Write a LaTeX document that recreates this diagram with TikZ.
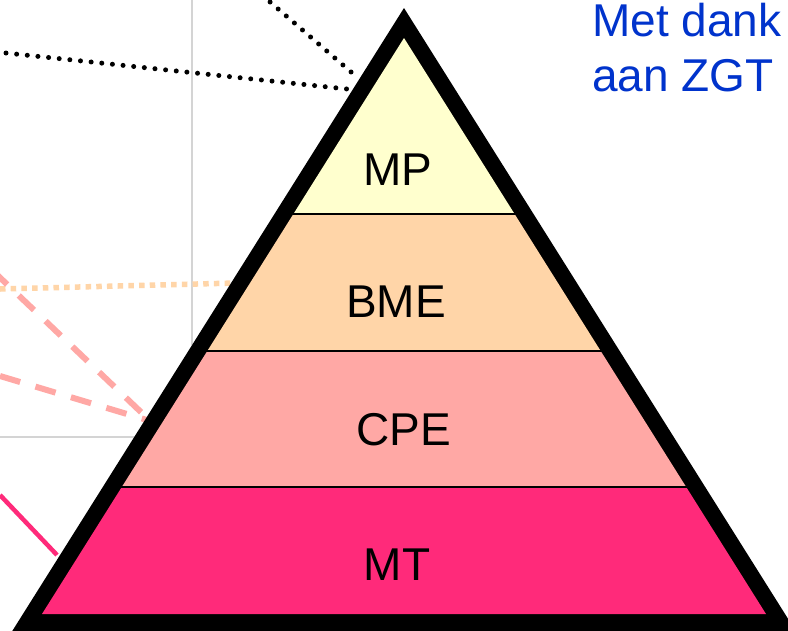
\documentclass[tikz,border=0pt]{standalone}
\usepackage{fontspec}
\setmainfont{Liberation Sans}
\definecolor{cMP}{HTML}{FFFFCE}
\definecolor{cBME}{HTML}{FFD5A8}
\definecolor{cCPE}{HTML}{FFA8A5}
\definecolor{cMT}{HTML}{FF2A7A}
\definecolor{cGrid}{HTML}{D4D4D4}
\definecolor{cBlue}{HTML}{0033CC}
\tikzset{
  band/.style={draw=black, line width=1.8pt},
  lbl/.style={anchor=base, inner sep=0pt, font=\fontsize{46}{55}\selectfont},
  thanks/.style={anchor=base west, inner sep=0pt, text=cBlue, font=\fontsize{46}{55}\selectfont},
  gridline/.style={draw=cGrid, line width=1.5pt},
  blackdots/.style={draw=black, line width=5pt, line cap=round, dash pattern=on 0pt off 10.7pt},
  orangedots/.style={draw=cBME, line width=5.5pt, dash pattern=on 5.5pt off 5.2pt},
  pinkdash/.style={draw=cCPE, line width=6pt, dash pattern=on 21pt off 16pt},
  magline/.style={draw=cMT, line width=4.5pt},
}
\begin{document}
\begin{tikzpicture}[x=1pt,y=-1pt]
\clip (0,0) rectangle (788,630);
\fill[white] (0,0) rectangle (788,630);
% grid lines
\coordinate (g1a) at (192,0); \coordinate (g1b) at (192,345);
\coordinate (g2a) at (0,437); \coordinate (g2b) at (140,437);
\draw[gridline] (g1a) -- (g1b);
\draw[gridline] (g2a) -- (g2b);
% connector lines
\coordinate (d1a) at (6,53); \coordinate (d1b) at (347,89);
\coordinate (d2a) at (262,-5); \coordinate (d2b) at (358,78);
\draw[blackdots] (d1a) -- (d1b);
\draw[blackdots] (d2a) -- (d2b);
\coordinate (o1a) at (0,289); \coordinate (o1b) at (236,283);
\draw[orangedots] (o1a) -- (o1b);
\coordinate (p1a) at (-8,270); \coordinate (p1b) at (143,414);
\coordinate (p2a) at (0,376); \coordinate (p2b) at (147,420);
\draw[pinkdash] (p1a) -- (p1b);
\draw[pinkdash] (p2a) -- (p2b);
\coordinate (m1a) at (0,495); \coordinate (m1b) at (57,555);
\draw[magline] (m1a) -- (m1b);
% pyramid
\fill[black] (404,8) -- (-11,668) -- (819,668) -- cycle;
\fill[cMP] (404,38) -- (293.4,214) -- (514.6,214) -- cycle;
\fill[cBME] (293.4,214) -- (207.3,351) -- (600.7,351) -- (514.6,214) -- cycle;
\fill[cCPE] (207.3,351) -- (121.8,487) -- (686.2,487) -- (600.7,351) -- cycle;
\fill[cMT] (121.8,487) -- (42,614) -- (766,614) -- (686.2,487) -- cycle;
\draw[band] (292,214) -- (516,214);
\draw[band] (205,351) -- (603,351);
\draw[band] (120,487) -- (689,487);
\node[lbl] (mp) at (398,185) {MP};
\node[lbl] (bme) at (396,317) {BME};
\node[lbl] (cpe) at (404,445) {CPE};
\node[lbl] (mt) at (397,580) {MT};
\node[thanks] (t1) at (592,36) {Met dank};
\node[thanks] (t2) at (592,91) {aan ZGT};
\end{tikzpicture}
\end{document}
